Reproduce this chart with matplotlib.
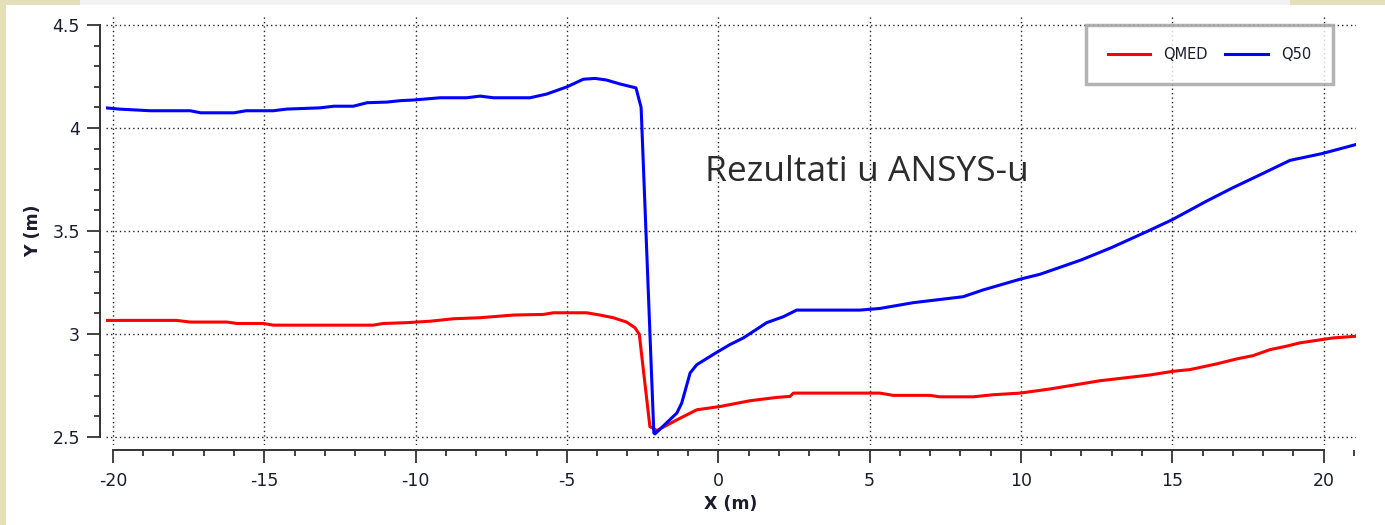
import matplotlib
matplotlib.use("Agg")
import matplotlib.pyplot as plt
from matplotlib.ticker import MultipleLocator, FormatStrFormatter
from matplotlib.patches import Rectangle

# QMED (red) profile
qmed_x = [-20.23, -17.9, -17.45, -16.24, -15.9, -15.03, -14.7, -11.4, -11.07, -10.29,
          -9.52, -8.75, -7.87, -6.77, -5.78, -5.45, -4.35, -3.91, -3.47, -3.03,
          -2.75, -2.61, -2.26, -2.15, -2.03, -1.37, -0.71, 0.06, 1.05, 1.93,
          2.37, 2.48, 5.34, 5.78, 6.99, 7.32, 8.42, 9.08, 9.97, 10.96,
          12.61, 14.26, 15.03, 15.58, 16.47, 17.13, 17.67, 18.23, 18.78, 19.22,
          19.95, 20.32, 21.07]
qmed_y = [3.066, 3.066, 3.058, 3.058, 3.051, 3.051, 3.043, 3.043, 3.051, 3.055,
          3.062, 3.074, 3.079, 3.092, 3.095, 3.103, 3.103, 3.092, 3.079, 3.058,
          3.03, 2.998, 2.55, 2.542, 2.531, 2.583, 2.632, 2.648, 2.676, 2.692,
          2.697, 2.713, 2.713, 2.702, 2.702, 2.695, 2.695, 2.705, 2.713, 2.733,
          2.773, 2.801, 2.819, 2.827, 2.855, 2.879, 2.895, 2.924, 2.941, 2.957,
          2.973, 2.981, 2.989]

# Q50 (blue) profile
q50_x = [-20.23, -19.8, -18.77, -17.45, -17.1, -16.0, -15.6, -14.7, -14.26, -13.16,
         -12.7, -12.06, -11.6, -10.95, -10.5, -10.08, -9.19, -8.31, -7.87, -7.43,
         -6.22, -5.67, -5.0, -4.46, -4.07, -3.69, -3.25, -2.72, -2.55, -2.13,
         -2.09, -1.37, -1.21, -0.93, -0.71, -0.05, 0.39, 0.83, 1.6, 2.15,
         2.59, 4.68, 5.34, 6.44, 8.09, 8.75, 9.97, 10.63, 12.0, 13.0,
         14.2, 15.0, 16.13, 17.0, 18.0, 18.89, 19.95, 21.07]
q50_y = [4.098, 4.092, 4.084, 4.084, 4.074, 4.074, 4.084, 4.084, 4.092, 4.098,
         4.106, 4.106, 4.123, 4.126, 4.133, 4.136, 4.147, 4.147, 4.155, 4.147,
         4.147, 4.165, 4.20, 4.237, 4.241, 4.233, 4.214, 4.195, 4.10, 2.52,
         2.515, 2.616, 2.664, 2.811, 2.851, 2.911, 2.949, 2.981, 3.055, 3.084,
         3.116, 3.116, 3.124, 3.152, 3.181, 3.214, 3.266, 3.29, 3.36, 3.42,
         3.50, 3.555, 3.645, 3.71, 3.78, 3.843, 3.876, 3.92]

fig = plt.figure(figsize=(13.85, 5.25), dpi=100, facecolor='#e4dfb8')
# white slide area behind the plot, beige shows at the left edge and top corners
fig.patches.append(Rectangle((6 / 1385, 0), 1, 1, transform=fig.transFigure,
                             facecolor='white', edgecolor='none', zorder=-10))
fig.patches.append(Rectangle((0, 520 / 525), 80 / 1385, 5 / 525, transform=fig.transFigure,
                             facecolor='#e4dfb8', edgecolor='none', zorder=-9))
fig.patches.append(Rectangle((80 / 1385, 520 / 525), 1210 / 1385, 5 / 525,
                             transform=fig.transFigure,
                             facecolor='#f2f2f2', edgecolor='none', zorder=-9))
fig.patches.append(Rectangle((1290 / 1385, 520 / 525), 95 / 1385, 5 / 525,
                             transform=fig.transFigure,
                             facecolor='#e4dfb8', edgecolor='none', zorder=-9))

ax = fig.add_axes([106 / 1385, 80 / 525, 1250 / 1385, 429 / 525])
ax.set_facecolor('white')

ax.plot(qmed_x, qmed_y, color='#ff0000', lw=2.2, label='QMED')
ax.plot(q50_x, q50_y, color='#0000ff', lw=2.2, label='Q50')

ax.set_xlim(-20.23, 21.07)
ax.set_ylim(2.461, 4.544)

ax.xaxis.set_major_locator(MultipleLocator(5))
ax.xaxis.set_minor_locator(MultipleLocator(1))
ax.yaxis.set_major_locator(MultipleLocator(0.5))
ax.yaxis.set_minor_locator(MultipleLocator(0.1))
ax.xaxis.set_major_formatter(FormatStrFormatter('%g'))
ax.yaxis.set_major_formatter(FormatStrFormatter('%g'))

ax.grid(True, which='major', color='#222222', linestyle=(0, (1, 2.2)), linewidth=1.0)

for s in ['top', 'right']:
    ax.spines[s].set_visible(False)
ax.spines['left'].set_position(('outward', 4.3))
ax.spines['bottom'].set_position(('outward', 3.6))
ax.spines['left'].set_bounds(2.5, 4.5)
ax.spines['bottom'].set_bounds(-20, 20)
for s in ['left', 'bottom']:
    ax.spines[s].set_color('#333333')
    ax.spines[s].set_linewidth(1.4)

ax.tick_params(which='major', direction='out', length=9.5, width=1.3, color='#333333',
               labelsize=12.5, labelcolor='#1c1c30')
ax.tick_params(which='minor', direction='out', length=4.5, width=1.3, color='#333333')
ax.tick_params(axis='y', which='major', pad=5)
ax.tick_params(axis='x', which='major', pad=6)

ax.set_xlabel('X (m)', fontsize=12.5, fontweight='bold', color='#1c1c30', labelpad=4)
ax.set_ylabel('Y (m)', fontsize=12.5, fontweight='bold', color='#1c1c30', labelpad=7)

ax.text(-0.44, 3.743, 'Rezultati u ANSYS-u', fontsize=25.5, family='Open Sans',
        color='#2b2b2b', ha='left', va='baseline')

leg = ax.legend(loc='upper right', bbox_to_anchor=(0.9816, 0.979), ncol=2,
                fontsize=10.5, frameon=True, fancybox=False, borderaxespad=0,
                handlelength=2.9, columnspacing=1.2, borderpad=1.5, handletextpad=0.9)
leg.get_frame().set_edgecolor('#a0a0a0')
leg.get_frame().set_linewidth(2.5)
for t in leg.get_texts():
    t.set_color('#1c1c30')

fig.savefig('out.png', dpi=100, facecolor=fig.get_facecolor())
